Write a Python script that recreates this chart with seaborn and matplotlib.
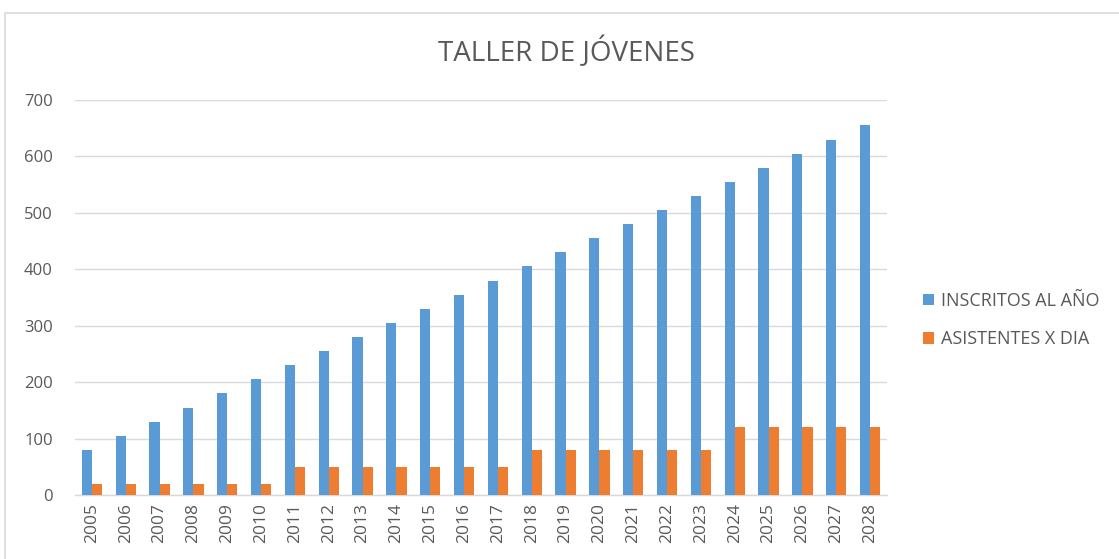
import matplotlib
matplotlib.use("Agg")
import matplotlib.pyplot as plt
from matplotlib.patches import Rectangle
import seaborn as sns
import pandas as pd

years = [str(y) for y in range(2005, 2029)]
inscritos = [80, 105, 130, 155, 180, 205, 230, 255, 280, 305, 330, 355,
             380, 405, 430, 455, 480, 505, 530, 555, 580, 605, 630, 655]
asistentes = [20, 20, 20, 20, 20, 20, 50, 50, 50, 50, 50, 50,
              50, 80, 80, 80, 80, 80, 80, 120, 120, 120, 120, 120]
series_names = ["INSCRITOS AL AÑO", "ASISTENTES X DIA"]
title = "TALLER DE JÓVENES"

df = pd.DataFrame({
    "Año": years * 2,
    "Valor": inscritos + asistentes,
    "Serie": [series_names[0]] * len(years) + [series_names[1]] * len(years),
})

sns.set_theme(style="white")
plt.rcParams["font.family"] = ["Open Sans", "DejaVu Sans"]
text_color = "#595959"

fig = plt.figure(figsize=(11.19, 5.59), dpi=100)
fig.patch.set_facecolor("white")
# chart frame
fig.add_artist(Rectangle((5 / 1119, -0.05), 1.2, (559 - 13) / 559 + 0.05,
                         transform=fig.transFigure, fill=False,
                         edgecolor="#d9d9d9", linewidth=1.2))

ax = fig.add_axes([75 / 1119, 1 - 495 / 559, (887 - 75) / 1119, (495 - 100) / 559])
sns.barplot(data=df, x="Año", y="Valor", hue="Serie",
            palette=["#5B9BD5", "#ED7D31"], width=0.6, gap=0,
            saturation=1, linewidth=0, ax=ax, zorder=3)

ax.set_ylim(0, 700)
ax.set_yticks(range(0, 701, 100))
ax.set_xlim(-0.5, len(years) - 0.5)
ax.yaxis.grid(True, color="#d9d9d9", linewidth=1, zorder=0)
ax.set_axisbelow(True)
for s in ["top", "right", "left"]:
    ax.spines[s].set_visible(False)
ax.spines["bottom"].set_color("#d9d9d9")
ax.spines["bottom"].set_linewidth(1)
ax.set_xlabel("")
ax.set_ylabel("")
ax.tick_params(axis="x", labelrotation=90, labelsize=12.5, colors=text_color,
               length=0, pad=6)
ax.tick_params(axis="y", labelsize=12, colors=text_color, length=0, pad=16)

fig.text(566 / 1119, 1 - 52 / 559, title, ha="center", va="center",
         fontsize=20, color=text_color)

handles, labels = ax.get_legend_handles_labels()
leg = ax.legend(handles, labels, loc="center left",
                bbox_to_anchor=(907 / 1119, 1 - 320 / 559),
                bbox_transform=fig.transFigure, frameon=False,
                fontsize=13, handlelength=0.6, handleheight=0.6,
                handletextpad=0.4, labelspacing=1.15, labelcolor=text_color)

fig.savefig("out.png", dpi=100, facecolor="white")
